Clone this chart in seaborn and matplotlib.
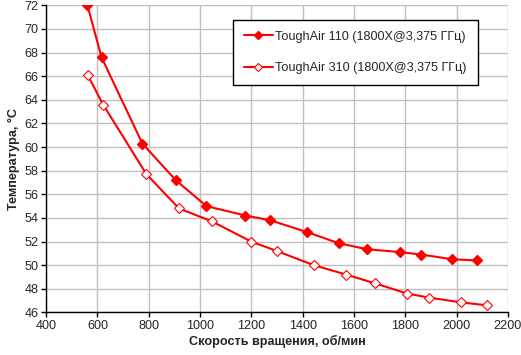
import matplotlib
matplotlib.use('Agg')
import matplotlib.pyplot as plt
import seaborn as sns
import pandas as pd

# --- data ---
rpm_110 = [561, 616, 775, 905, 1025, 1177, 1274, 1417, 1541, 1651, 1781, 1862, 1983, 2079]
temp_110 = [72.0, 67.6, 60.3, 57.2, 55.0, 54.2, 53.8, 52.8, 51.85, 51.35, 51.1, 50.9, 50.5, 50.4]

rpm_310 = [562, 622, 791, 918, 1047, 1199, 1299, 1443, 1570, 1683, 1807, 1893, 2018, 2117]
temp_310 = [66.1, 63.6, 57.7, 54.8, 53.7, 52.0, 51.2, 50.0, 49.2, 48.45, 47.6, 47.25, 46.85, 46.6]

label_110 = 'ToughAir 110 (1800X@3,375 ГГц)'
label_310 = 'ToughAir 310 (1800X@3,375 ГГц)'

x_ticks = list(range(400, 2201, 200))
y_ticks = list(range(46, 73, 2))

df_110 = pd.DataFrame({'rpm': rpm_110, 'temp': temp_110})
df_310 = pd.DataFrame({'rpm': rpm_310, 'temp': temp_310})

sns.set_style('whitegrid', {'grid.color': '#c0c0c0', 'axes.edgecolor': 'black'})
plt.rcParams['font.family'] = ['Liberation Sans', 'DejaVu Sans']
fs = 9.1
plt.rcParams['font.size'] = fs

fig, ax = plt.subplots(figsize=(5.21, 3.55), dpi=100)
fig.subplots_adjust(left=0.0885, right=0.975, top=0.985, bottom=0.12)

red = '#ff0000'
sns.lineplot(data=df_110, x='rpm', y='temp', ax=ax, color=red, linewidth=1.5,
             marker='D', markersize=5.5, markerfacecolor=red, markeredgecolor=red,
             markeredgewidth=1, label=label_110)
sns.lineplot(data=df_310, x='rpm', y='temp', ax=ax, color=red, linewidth=1.5,
             marker='D', markersize=5.5, markerfacecolor='white', markeredgecolor=red,
             markeredgewidth=0.8, label=label_310)

ax.set_xlim(400, 2200)
ax.set_ylim(46, 72)
ax.set_xticks(x_ticks)
ax.set_yticks(y_ticks)
ax.grid(True, color='#c0c0c0', linewidth=1)
ax.set_axisbelow(True)

for s in ['top', 'right']:
    ax.spines[s].set_visible(False)
for s in ['left', 'bottom']:
    ax.spines[s].set_color('black')
    ax.spines[s].set_linewidth(1)

ax.tick_params(axis='both', direction='out', length=3.5, width=1, color='black',
               labelsize=fs, pad=2, left=True, bottom=True)

ax.set_xlabel('Скорость вращения, об/мин', fontweight='bold', fontsize=fs, labelpad=2)
ax.set_ylabel('Температура, °С', fontweight='bold', fontsize=fs, labelpad=3)

leg = ax.legend(loc='upper left', bbox_to_anchor=(233 / 521, 1 - 20 / 355),
                bbox_transform=fig.transFigure, borderaxespad=0, fancybox=False,
                frameon=True, edgecolor='black', framealpha=1, fontsize=fs,
                handlelength=2.3, handletextpad=0.2, labelspacing=1.55,
                borderpad=0.85, markerscale=0.7)
leg.get_frame().set_linewidth(1)

fig.savefig('out.png', dpi=100)
